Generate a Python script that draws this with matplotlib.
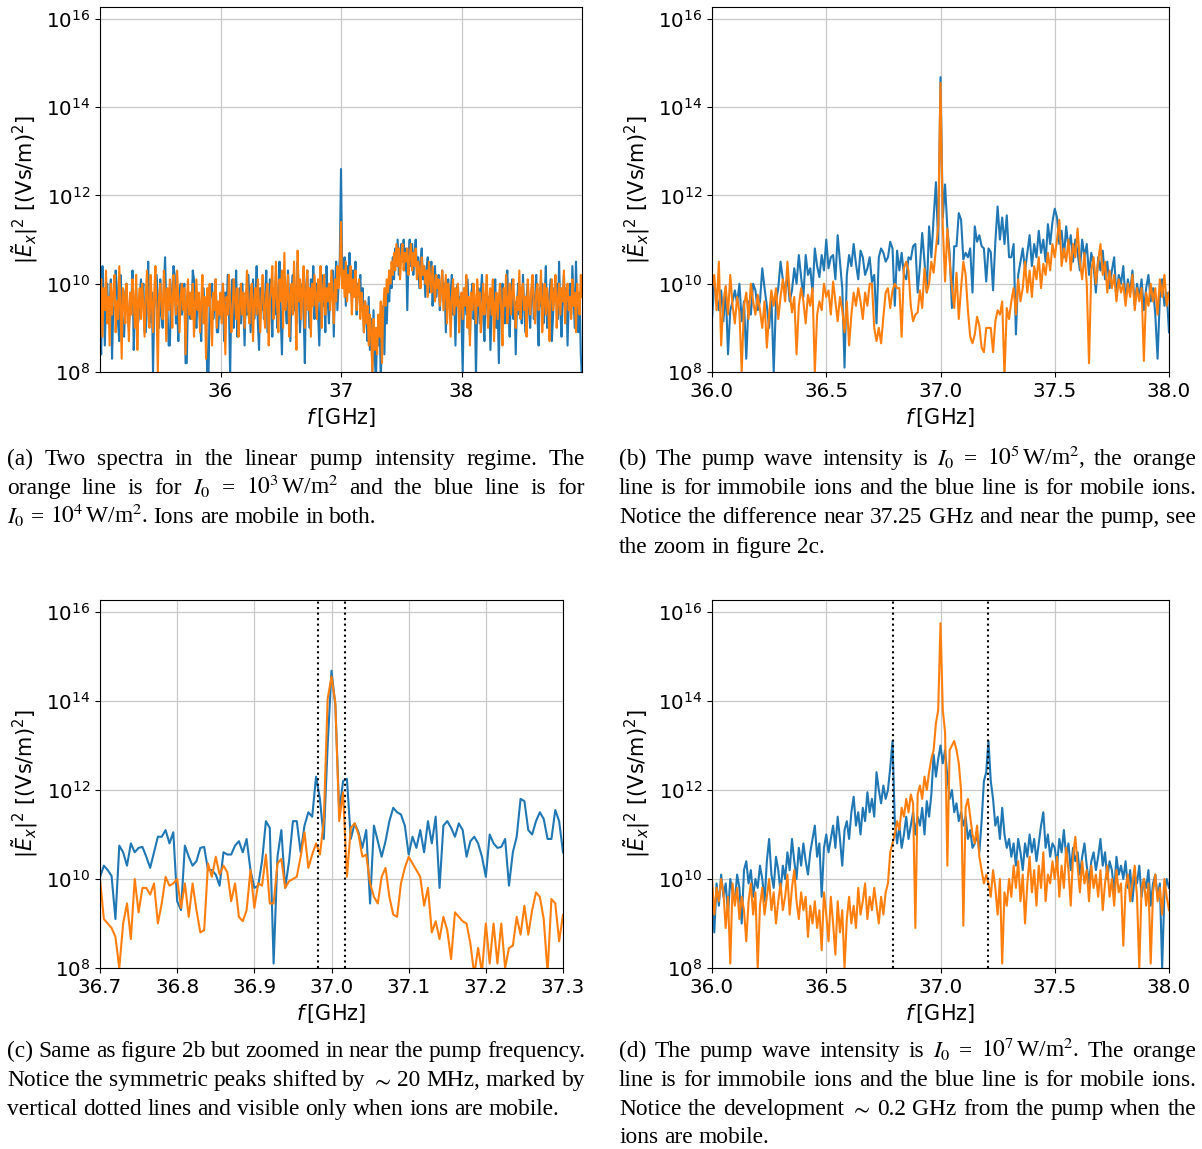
import numpy as np
import matplotlib
matplotlib.use("Agg")
import matplotlib.pyplot as plt
from matplotlib.ticker import FormatStrFormatter, NullLocator

W, H = 1202, 1149
BLUE = "#1f77b4"
ORANGE = "#ff7f0e"

# ---------------- data (log10 of |E_x|^2) ----------------
# panel (a): 35.00 .. 39.00 GHz, step 0.01
fa = np.linspace(35.0, 39.0, 401)
a_blue = [
    9.0, 8.4, 10.4, 9.6, 8.6, 9.7, 10.0, 9.2, 9.5, 10.1,
    8.3, 9.4, 9.5, 10.3, 9.9, 9.1, 8.7, 10.2, 9.4, 9.0,
    8.8, 9.8, 10.0, 9.3, 9.0, 9.6, 9.6, 10.3, 8.5, 9.4,
    9.9, 9.0, 9.2, 9.7, 10.1, 9.7, 10.0, 8.9, 8.9, 9.5,
    10.5, 9.1, 9.3, 9.8, 8.0, 9.4, 9.8, 10.2, 9.6, 9.0,
    10.1, 9.3, 9.0, 9.9, 10.6, 9.5, 9.4, 8.6, 8.6, 9.8,
    9.9, 10.4, 10.2, 9.1, 9.5, 8.7, 9.8, 10.0, 9.3, 9.7,
    10.0, 8.2, 8.2, 9.6, 9.7, 9.2, 9.4, 10.3, 10.1, 9.4,
    9.0, 9.7, 9.6, 9.1, 8.7, 9.9, 9.9, 9.3, 9.5, 7.8,
    7.8, 9.6, 9.8, 10.0, 9.2, 9.5, 10.1, 8.9, 8.9, 9.5,
    9.6, 9.2, 10.0, 8.7, 9.8, 9.3, 10.2, 9.5, 7.9, 9.7,
    10.1, 9.0, 9.6, 10.3, 8.8, 9.4, 9.9, 9.1, 10.0, 9.5,
    8.6, 9.8, 9.3, 10.2, 9.7, 8.9, 9.5, 10.1, 9.2, 9.6,
    10.4, 9.1, 8.5, 9.9, 9.4, 10.0, 9.2, 9.7, 10.3, 8.9,
    9.5, 10.1, 9.6, 8.8, 9.9, 9.3, 10.2, 9.0, 9.7, 10.5,
    9.2, 8.4, 9.8, 10.0, 9.5, 9.1, 10.3, 9.6, 8.7, 9.9,
    10.2, 9.4, 9.7, 9.1, 10.5, 9.8, 8.9, 9.6, 10.0, 9.3,
    8.2, 9.9, 10.3, 9.5, 9.0, 10.1, 9.6, 10.4, 9.2, 9.8,
    10.0, 9.3, 8.6, 9.7, 10.2, 9.5, 9.9, 8.9, 10.4, 9.6,
    9.1, 10.0, 9.7, 10.3, 8.8, 9.9, 10.5, 9.4, 10.0, 10.6,
    12.6,
    10.3, 10.1, 10.6, 9.5, 10.4, 9.9, 10.7, 10.2, 9.6, 10.3,
    9.8, 10.5, 9.3, 10.0, 9.7, 10.2, 9.4, 9.9, 8.9, 9.6,
    9.3, 8.7, 9.7, 8.5, 9.2, 8.0, 9.4, 8.3, 7.8, 9.0,
    8.6, 9.3, 7.8, 8.9, 9.5, 8.4, 9.8, 9.1, 10.0, 9.6,
    10.3, 9.9, 10.6, 10.1, 10.8, 10.4, 11.0, 10.2, 10.7, 10.9,
    10.5, 11.0, 10.3, 10.8, 9.4, 10.6, 11.0, 10.4, 10.9, 10.2,
    10.7, 11.0, 10.3, 10.6, 9.9, 10.5, 10.8, 10.1, 10.4, 9.7,
    10.3, 10.6, 9.8, 10.2, 10.5, 9.5, 10.1, 10.4, 9.7, 10.0,
    10.2, 9.4, 9.9, 10.3, 9.6, 10.0, 8.9, 9.8, 10.1, 9.5,
    9.8, 10.2, 9.3, 9.7, 8.6, 9.9, 10.0, 9.4, 9.7, 9.2,
    8.0, 9.6, 9.9, 9.3, 10.1, 9.5, 8.8, 9.7, 10.0, 9.2,
    9.6, 7.9, 9.4, 9.9, 9.1, 9.8, 10.2, 9.3, 8.7, 9.6,
    10.0, 9.2, 9.7, 8.5, 9.4, 9.9, 9.6, 10.1, 9.0, 9.5,
    8.2, 9.8, 9.3, 10.0, 9.6, 9.1, 9.9, 10.3, 9.4, 8.8,
    9.7, 10.1, 9.2, 9.6, 8.4, 9.5, 10.0, 9.3, 9.8, 9.1,
    10.2, 9.5, 8.9, 9.7, 10.0, 9.4, 9.0, 9.8, 10.1, 9.2,
    9.6, 10.2, 9.3, 8.6, 9.9, 9.5, 10.0, 9.1, 9.7, 10.4,
    9.0, 9.5, 9.8, 10.1, 8.7, 9.3, 9.9, 9.6, 10.0, 9.2,
    10.5, 9.4, 8.8, 9.7, 10.2, 9.3, 9.9, 8.6, 9.6, 10.0,
    9.3, 10.4, 9.7, 9.0, 10.5, 9.5, 8.9, 9.8, 8.4, 7.8,
]
a_orange = [
    9.5, 10.1, 8.8, 9.9, 9.4, 10.3, 9.1, 9.7, 8.6, 10.0,
    9.3, 9.8, 10.2, 8.9, 9.6, 9.2, 10.4, 9.5, 8.3, 9.9,
    9.7, 9.1, 10.0, 9.4, 8.7, 9.8, 9.3, 10.1, 9.6, 9.0,
    10.2, 8.5, 9.6, 9.9, 9.2, 10.0, 9.5, 8.8, 9.7, 10.3,
    9.4, 9.0, 10.2, 9.6, 8.9, 9.8, 10.4, 9.3, 8.0, 9.7,
    10.0, 9.5, 9.2, 10.3, 9.7, 8.7, 9.9, 9.4, 10.1, 9.6,
    9.0, 10.2, 9.8, 9.3, 10.3, 9.6, 8.9, 9.7, 10.0, 9.4,
    9.9, 8.4, 9.6, 10.1, 9.3, 9.8, 9.2, 10.0, 8.8, 9.5,
    10.1, 9.4, 9.8, 8.9, 9.6, 10.2, 9.1, 9.7, 8.3, 9.9,
    9.5, 10.0, 9.2, 8.6, 9.8, 9.4, 10.1, 9.0, 9.6, 9.3,
    9.8, 9.1, 10.0, 9.5, 8.4, 9.7, 9.3, 10.2, 9.6, 8.9,
    9.4, 10.1, 9.7, 9.2, 9.9, 8.8, 9.5, 10.0, 9.3, 9.8,
    9.0, 9.6, 10.3, 9.4, 9.1, 9.8, 10.0, 8.7, 9.6, 9.9,
    9.3, 10.1, 9.5, 8.9, 9.7, 10.2, 9.4, 9.0, 9.8, 10.0,
    8.6, 9.6, 9.9, 10.4, 9.2, 9.7, 10.5, 9.5, 8.9, 10.1,
    9.6, 10.3, 9.0, 10.7, 9.4, 9.8, 10.2, 8.8, 9.7, 10.0,
    9.3, 10.5, 9.8, 8.5, 10.75, 9.6, 10.1, 9.2, 9.9, 10.4,
    9.0, 9.7, 10.3, 9.4, 9.9, 8.8, 10.0, 9.5, 10.2, 9.7,
    9.2, 10.1, 9.6, 10.4, 9.0, 9.8, 10.2, 9.3, 9.9, 9.6,
    10.0, 9.4, 10.3, 9.7, 9.1, 10.1, 9.6, 10.4, 9.9, 10.2,
    11.4,
    9.9, 10.3, 9.7, 10.5, 9.6, 10.2, 9.8, 10.4, 9.3, 10.1,
    9.7, 10.3, 9.4, 9.9, 10.1, 9.2, 9.8, 9.5, 8.9, 9.6,
    9.1, 9.5, 8.6, 9.3, 8.9, 8.0, 9.2, 8.5, 9.0, 8.4,
    9.3, 8.8, 9.6, 8.2, 9.4, 9.9, 9.5, 10.1, 9.8, 10.3,
    10.0, 10.5, 10.2, 10.7, 10.3, 10.9, 10.4, 10.8, 10.1, 10.6,
    10.9, 10.3, 10.7, 10.5, 10.8, 10.2, 10.6, 10.9, 10.3, 10.7,
    10.4, 10.8, 10.1, 10.5, 10.3, 9.9, 10.6, 10.2, 10.4, 10.0,
    10.3, 9.7, 10.5, 10.1, 9.8, 10.4, 10.0, 9.6, 10.2, 9.9,
    10.1, 9.5, 9.9, 10.3, 9.4, 9.8, 10.2, 9.1, 10.0, 9.6,
    8.8, 9.7, 10.1, 9.3, 9.9, 9.5, 10.0, 8.9, 9.6, 9.8,
    9.2, 9.9, 9.5, 10.2, 9.0, 9.7, 8.6, 9.8, 9.4, 10.0,
    9.6, 9.1, 10.1, 9.5, 9.8, 8.9, 9.4, 10.0, 9.3, 9.7,
    10.2, 9.0, 9.6, 9.9, 9.3, 10.1, 8.7, 9.5, 9.8, 9.2,
    9.7, 10.0, 9.4, 8.6, 9.9, 9.5, 10.2, 9.1, 9.6, 10.0,
    9.3, 9.8, 10.1, 9.5, 9.0, 9.7, 9.4, 10.3, 9.2, 9.9,
    10.0, 9.4, 9.7, 8.8, 10.1, 9.6, 9.3, 9.9, 10.2, 9.5,
    9.1, 9.8, 10.0, 9.4, 9.7, 10.3, 8.9, 9.6, 10.0, 9.3,
    9.9, 9.5, 8.7, 9.8, 10.1, 9.4, 9.7, 10.2, 9.0, 9.6,
    10.0, 9.3, 9.9, 9.6, 10.3, 9.1, 9.8, 10.0, 9.4, 9.7,
    9.2, 10.1, 9.5, 9.8, 8.9, 10.0, 9.6, 9.3, 10.2, 9.7,
]

# panel (c): 36.700 .. 37.300 GHz, step 0.005
fc = np.linspace(36.7, 37.3, 121)
c_blue = [
    10.04, 10.3, 10.2, 10.07, 9.1, 10.75, 10.6, 10.3, 10.8, 10.6,
    10.7, 10.72, 10.5, 10.25, 10.6, 10.95, 10.95, 11.1, 10.8, 11.05,
    9.5, 9.3, 10.75, 10.5, 10.3, 10.4, 10.7, 10.72, 10.2, 10.2,
    10.1, 9.85, 10.6, 10.55, 10.55, 10.75, 10.85, 10.6, 10.9, 10.2,
    9.8, 9.85, 10.4, 11.3, 11.15, 8.1, 10.5, 11.1, 9.8, 10.4,
    11.3, 11.3, 10.6, 11.2, 11.5, 11.4, 12.3, 11.8, 10.9, 13.0,
    14.68, 13.9, 11.5, 12.2, 12.25, 10.9, 11.25, 11.05, 10.7, 11.1,
    9.45, 11.2, 10.85, 10.5, 10.85, 11.3, 11.6, 11.5, 11.45, 11.2,
    10.55, 10.95, 10.7, 11.1, 10.6, 11.3, 10.8, 11.4, 9.8, 11.2,
    11.3, 11.15, 10.95, 11.25, 11.1, 10.5, 10.85, 10.95, 10.8, 10.5,
    10.05, 11.0, 10.8, 10.7, 10.72, 10.9, 9.85, 10.6, 10.95, 11.8,
    11.75, 11.1, 11.0, 11.3, 11.5, 11.35, 10.9, 10.9, 11.55, 11.3,
    10.6,
]
c_orange = [
    10.0, 9.1, 9.0, 8.9, 8.7, 8.0, 9.0, 9.45, 8.65, 10.0,
    9.25, 9.8, 9.8, 9.65, 9.9, 9.0, 9.45, 10.05, 9.85, 9.9,
    10.0, 9.35, 9.9, 9.15, 9.9, 9.3, 8.8, 8.85, 10.35, 10.05,
    10.5, 10.1, 10.3, 10.15, 9.5, 9.9, 9.15, 9.05, 9.3, 10.2,
    9.35, 9.9, 9.85, 10.55, 9.45, 9.45, 10.35, 10.45, 9.8, 9.95,
    10.0, 10.05, 10.5, 11.05, 10.25, 10.55, 10.8, 10.55, 11.3, 14.05,
    14.55, 13.95, 11.3, 11.95, 10.05, 11.15, 11.25, 11.0, 10.5, 10.55,
    9.9, 9.6, 9.45, 10.05, 10.25, 9.6, 9.2, 9.15, 9.9, 10.25,
    10.5, 10.35, 10.2, 10.05, 9.4, 9.8, 8.8, 9.05, 8.65, 9.15,
    8.85, 8.2, 9.25, 9.15, 9.05, 9.0, 8.55, 7.85, 8.45, 7.9,
    9.0, 8.1, 9.0, 8.1, 9.0, 8.0, 8.45, 8.5, 9.15, 8.75,
    9.4, 8.75, 9.3, 9.7, 9.6, 9.1, 7.9, 9.55, 9.45, 8.6,
    9.2,
]

# panel (b): 36.00 .. 38.00 GHz, step 0.01 (centre part shared with panel c)
fb = np.linspace(36.0, 38.0, 201)
b_blue_low = [
    9.2, 10.0, 9.75, 9.4, 9.85, 9.15, 9.9, 8.4, 9.4, 9.6,
    9.85, 9.55, 10.0, 9.15, 9.6, 8.3, 9.6, 9.3, 10.0, 9.85,
    9.4, 9.6, 10.35, 9.9, 9.5, 9.0, 9.7, 8.0, 9.6, 9.9,
    10.5, 10.1, 9.75, 10.2, 9.6, 9.85, 10.35, 10.0, 10.65, 10.15,
    9.7, 10.65, 10.2, 10.35, 9.8, 10.8, 10.4, 10.15, 10.65, 10.3,
    11.0, 10.35, 10.6, 10.65, 10.1, 11.1, 10.5, 9.9, 8.1, 10.2,
    10.65, 10.4, 10.9, 10.45, 10.1, 10.75, 10.6, 10.2, 10.35, 10.6,
]
b_blue_high = [
    10.6, 10.9, 8.85, 10.2, 10.5, 10.8, 10.3, 10.7, 11.1, 10.4,
    10.9, 10.6, 11.2, 10.7, 11.0, 10.5, 11.35, 10.9, 11.4, 11.7,
    11.5, 10.9, 11.2, 10.6, 11.3, 10.8, 11.1, 10.5, 11.0, 10.7,
    10.3, 11.0, 10.6, 10.9, 10.2, 10.7, 10.4, 9.8, 10.6, 10.3,
    10.75, 10.1, 10.5, 9.9, 10.3, 10.6, 9.7, 10.2, 10.0, 10.4,
    9.6, 10.1, 9.8, 10.3, 9.5, 10.0, 9.7, 10.1, 9.4, 9.9,
    10.2, 9.6, 9.9, 9.3, 8.3, 9.7, 10.1, 9.5, 9.8, 8.9,
]
b_orange_low = [
    9.9, 10.2, 9.4, 10.5, 8.6, 9.6, 9.95, 9.3, 10.2, 9.5,
    9.1, 9.7, 9.35, 8.0, 9.5, 9.8, 9.2, 10.0, 9.6, 9.3,
    9.75, 9.4, 9.0, 9.6, 8.55, 9.3, 9.85, 9.5, 9.9, 9.2,
    9.7, 10.1, 9.6, 10.5, 9.8, 9.35, 9.7, 8.4, 9.5, 9.9,
    9.6, 9.1, 9.75, 9.5, 9.9, 8.0, 9.3, 9.6, 9.4, 10.0,
    9.7, 9.85, 9.3, 10.05, 9.6, 9.15, 9.7, 9.4, 8.9, 9.6,
    8.6, 9.3, 9.8, 9.5, 9.9, 9.6, 9.2, 9.8, 9.5, 10.0,
]
b_orange_high = [
    9.6, 9.9, 9.3, 10.1, 9.6, 9.9, 10.5, 9.8, 10.3, 9.7,
    10.4, 10.1, 10.6, 9.9, 10.45, 10.2, 10.7, 10.3, 10.9, 10.6,
    11.0, 11.45, 10.4, 10.8, 10.5, 11.0, 10.3, 10.9, 10.6, 11.25,
    10.5, 10.1, 10.7, 10.0, 8.2, 10.3, 10.6, 10.0, 10.5, 10.9,
    10.2, 10.5, 9.8, 10.3, 9.9, 10.2, 9.6, 10.1, 9.8, 10.0,
    9.5, 10.0, 9.7, 10.2, 9.4, 9.9, 9.6, 9.9, 8.25, 9.8,
    9.5, 10.0, 9.6, 9.9, 9.3, 10.1, 9.7, 10.2, 9.5, 9.8,
]
b_blue = b_blue_low + c_blue[::2] + b_blue_high
b_orange = b_orange_low + c_orange[::2] + b_orange_high

# panel (d): 36.00 .. 38.00 GHz, step 0.01
fd = np.linspace(36.0, 38.0, 201)
d_blue = [
    9.7, 8.8, 9.9, 9.4, 10.1, 9.6, 9.9, 9.2, 10.0, 9.7,
    9.5, 10.1, 9.8, 9.0, 10.2, 10.4, 9.9, 10.2, 9.6, 10.0,
    9.8, 10.3, 10.0, 9.5, 10.4, 10.9, 10.1, 9.8, 10.5, 10.2,
    9.7, 10.3, 10.0, 10.6, 10.2, 10.9, 10.4, 10.0, 10.7, 10.3,
    10.8, 10.4, 10.1, 10.6, 10.9, 11.2, 10.5, 10.8, 9.6, 10.7,
    11.0, 10.6, 10.9, 11.2, 10.7, 11.4, 10.9, 10.3, 11.1, 11.3,
    10.9, 11.5, 11.85, 11.2, 11.5, 11.0, 11.6, 11.3, 11.95, 11.5,
    11.8, 11.4, 12.4, 12.0, 11.7, 12.1, 11.8, 12.0, 12.5, 13.1,
    11.3, 10.8, 11.2, 10.7, 11.0, 11.4, 10.9, 11.2, 11.5, 11.0,
    11.4, 11.2, 11.6, 11.0, 11.75, 11.4, 11.9, 12.8, 12.3, 12.7,
    13.0,
    12.6, 12.9, 12.3, 11.8, 12.0, 11.5, 11.7, 11.3, 11.5,
    11.2, 11.4, 10.9, 11.1, 10.7, 10.8, 11.0, 10.6, 11.3, 12.2,
    12.4, 13.1, 12.2, 11.8, 11.2, 11.4, 10.9, 11.6, 11.0, 10.7,
    10.9, 10.5, 10.8, 10.3, 10.9, 10.6, 10.2, 10.8, 10.5, 11.0,
    10.6, 10.9, 10.4, 10.8, 11.2, 11.5, 10.7, 11.0, 10.5, 10.8,
    10.7, 10.3, 10.9, 10.6, 11.1, 10.5, 10.8, 10.2, 10.7, 10.4,
    10.6, 10.1, 10.5, 10.8, 10.3, 9.9, 10.4, 10.6, 10.2, 10.5,
    10.9, 10.3, 10.6, 10.0, 10.4, 10.2, 9.7, 10.5, 10.1, 10.3,
    10.0, 10.4, 9.8, 10.2, 9.5, 10.1, 9.9, 10.3, 9.6, 10.0,
    9.8, 10.2, 9.4, 9.9, 10.1, 9.6, 9.9, 8.0, 9.7, 10.0,
    9.8,
]
d_orange = [
    10.0, 9.2, 9.8, 9.5, 10.0, 9.7, 8.9, 9.6, 8.1, 9.9,
    9.4, 9.8, 9.1, 9.6, 9.3, 8.6, 9.5, 9.9, 9.2, 9.7,
    8.0, 9.4, 9.8, 9.2, 9.6, 10.0, 9.3, 9.7, 9.0, 9.5,
    9.9, 9.3, 9.6, 10.1, 9.2, 9.8, 10.2, 9.5, 9.1, 9.7,
    9.3, 9.6, 8.7, 9.4, 9.0, 9.5, 8.9, 9.3, 8.4, 9.7,
    9.2, 8.6, 9.6, 9.0, 8.3, 9.5, 8.8, 9.3, 8.0, 9.1,
    9.6, 9.0, 9.4, 8.9, 9.8, 9.2, 9.5, 9.9, 9.1, 9.6,
    9.3, 9.8, 9.4, 9.0, 9.6, 9.2, 9.7, 9.9, 10.6, 10.8,
    11.0, 11.3, 11.1, 11.6, 11.4, 11.8, 11.5, 11.9, 11.7, 8.9,
    11.9, 12.1, 11.8, 12.3, 12.0, 12.4, 12.7, 12.9, 13.5, 13.8,
    15.75,
    13.8, 13.3, 10.3, 12.9, 13.0, 13.1, 12.9, 12.6, 12.0,
    8.95, 11.6, 11.8, 11.4, 11.0, 10.8, 11.2, 10.5, 10.2, 9.9,
    10.1, 9.9, 9.6, 10.2, 9.8, 9.2, 10.0, 8.1, 9.7, 9.4,
    10.0, 9.6, 10.3, 9.8, 10.4, 9.5, 10.1, 9.0, 9.9, 10.5,
    9.7, 10.2, 9.4, 10.3, 9.8, 10.6, 9.5, 10.1, 9.9, 10.4,
    10.0, 10.5, 9.6, 10.3, 9.8, 10.7, 10.2, 9.4, 10.5, 10.95,
    10.3, 9.7, 10.4, 9.9, 10.2, 9.5, 10.3, 9.8, 10.1, 9.6,
    10.2, 9.3, 9.9, 10.3, 9.6, 10.0, 9.4, 10.2, 9.7, 9.9,
    8.5, 9.8, 10.1, 9.5, 9.9, 10.3, 9.6, 8.0, 9.8, 10.0,
    9.4, 9.9, 8.1, 9.7, 10.1, 9.5, 9.8, 9.2, 10.0, 9.6,
    9.3,
]

c_markers = [36.982, 37.018]
d_markers = [36.79, 37.21]

x_ticks_a = [36, 37, 38]
x_ticks_bd = [36.0, 36.5, 37.0, 37.5, 38.0]
x_ticks_c = [36.7, 36.8, 36.9, 37.0, 37.1, 37.2, 37.3]
y_ticks = [1e8, 1e10, 1e12, 1e14, 1e16]

captions = {
    "a": [
        ("(a) Two spectra in the linear pump intensity regime. The", True),
        ("orange line is for $I_0$ = $10^3\\,$W/m$^2$ and the blue line is for", True),
        ("$I_0$ = $10^4\\,$W/m$^2$. Ions are mobile in both.", False),
    ],
    "b": [
        ("(b) The pump wave intensity is $I_0$ = $10^5\\,$W/m$^2$, the orange", True),
        ("line is for immobile ions and the blue line is for mobile ions.", True),
        ("Notice the difference near 37.25 GHz and near the pump, see", True),
        ("the zoom in figure 2c.", False),
    ],
    "c": [
        ("(c) Same as figure 2b but zoomed in near the pump frequency.", True),
        ("Notice the symmetric peaks shifted by $\\sim$ 20 MHz, marked by", True),
        ("vertical dotted lines and visible only when ions are mobile.", False),
    ],
    "d": [
        ("(d) The pump wave intensity is $I_0$ = $10^7\\,$W/m$^2$. The orange", True),
        ("line is for immobile ions and the blue line is for mobile ions.", True),
        ("Notice the development $\\sim$ 0.2 GHz from the pump when the", True),
        ("ions are mobile.", False),
    ],
}

# ---------------- figure ----------------
fig = plt.figure(figsize=(W / 100, H / 100), dpi=100)


def make_ax(l, t, r, b):
    return fig.add_axes([l / W, 1 - b / H, (r - l) / W, (b - t) / H])


ax_a = make_ax(100, 7, 582, 372)
ax_b = make_ax(712, 7, 1169, 372)
ax_c = make_ax(100, 600, 563, 968)
ax_d = make_ax(712, 600, 1169, 968)

panels = [
    (ax_a, fa, a_blue, a_orange, (35.0, 39.0), x_ticks_a, None, []),
    (ax_b, fb, b_blue, b_orange, (36.0, 38.0), x_ticks_bd, "%.1f", []),
    (ax_c, fc, c_blue, c_orange, (36.7, 37.3), x_ticks_c, "%.1f", c_markers),
    (ax_d, fd, d_blue, d_orange, (36.0, 38.0), x_ticks_bd, "%.1f", d_markers),
]

for ax, f, yb, yo, xl, xt, fmt, marks in panels:
    ax.plot(f, 10.0 ** np.asarray(yb), color=BLUE, lw=1.5)
    ax.plot(f, 10.0 ** np.asarray(yo), color=ORANGE, lw=1.5)
    for m in marks:
        ax.axvline(m, color="black", ls=":", lw=1.5)
    ax.set_yscale("log")
    ax.set_ylim(1e8, 10 ** 16.27)
    ax.set_xlim(*xl)
    ax.set_yticks(y_ticks)
    ax.yaxis.set_minor_locator(NullLocator())
    ax.set_xticks(xt)
    if fmt:
        ax.xaxis.set_major_formatter(FormatStrFormatter(fmt))
    ax.tick_params(labelsize=14.3)
    ax.grid(True, color="#c8c8c8", lw=0.9)
    ax.set_axisbelow(True)
    ax.set_xlabel(r"$f\,$[GHz]", fontsize=15)
    ax.set_ylabel(r"$|\tilde{E}_x|^2$ [(Vs/m)$^2$]", fontsize=15)

# ---------------- captions (justified) ----------------
fig.canvas.draw()
renderer = fig.canvas.get_renderer()
CAP_SIZE = 16.8


def caption(lines, x0, x1, y0, dy):
    for k, (line, just) in enumerate(lines):
        words = line.split(" ")
        yy = 1 - (y0 + k * dy) / H
        ts = [fig.text(0, yy, w, fontsize=CAP_SIZE, family="Liberation Serif",
                       math_fontfamily="stix", va="baseline", ha="left")
              for w in words]
        ws = [t.get_window_extent(renderer).width for t in ts]
        if just and len(words) > 1:
            gap = (x1 - x0 - sum(ws)) / (len(words) - 1)
        else:
            gap = CAP_SIZE * 100 / 72 * 0.25
        x = x0
        for t, w in zip(ts, ws):
            t.set_x(x / W)
            x += w + gap


caption(captions["a"], 7, 585, 465, 29.2)
caption(captions["b"], 619, 1196, 465, 29.2)
caption(captions["c"], 7, 585, 1057, 28.8)
caption(captions["d"], 619, 1196, 1057, 28.8)

fig.savefig("out.png", dpi=100)
